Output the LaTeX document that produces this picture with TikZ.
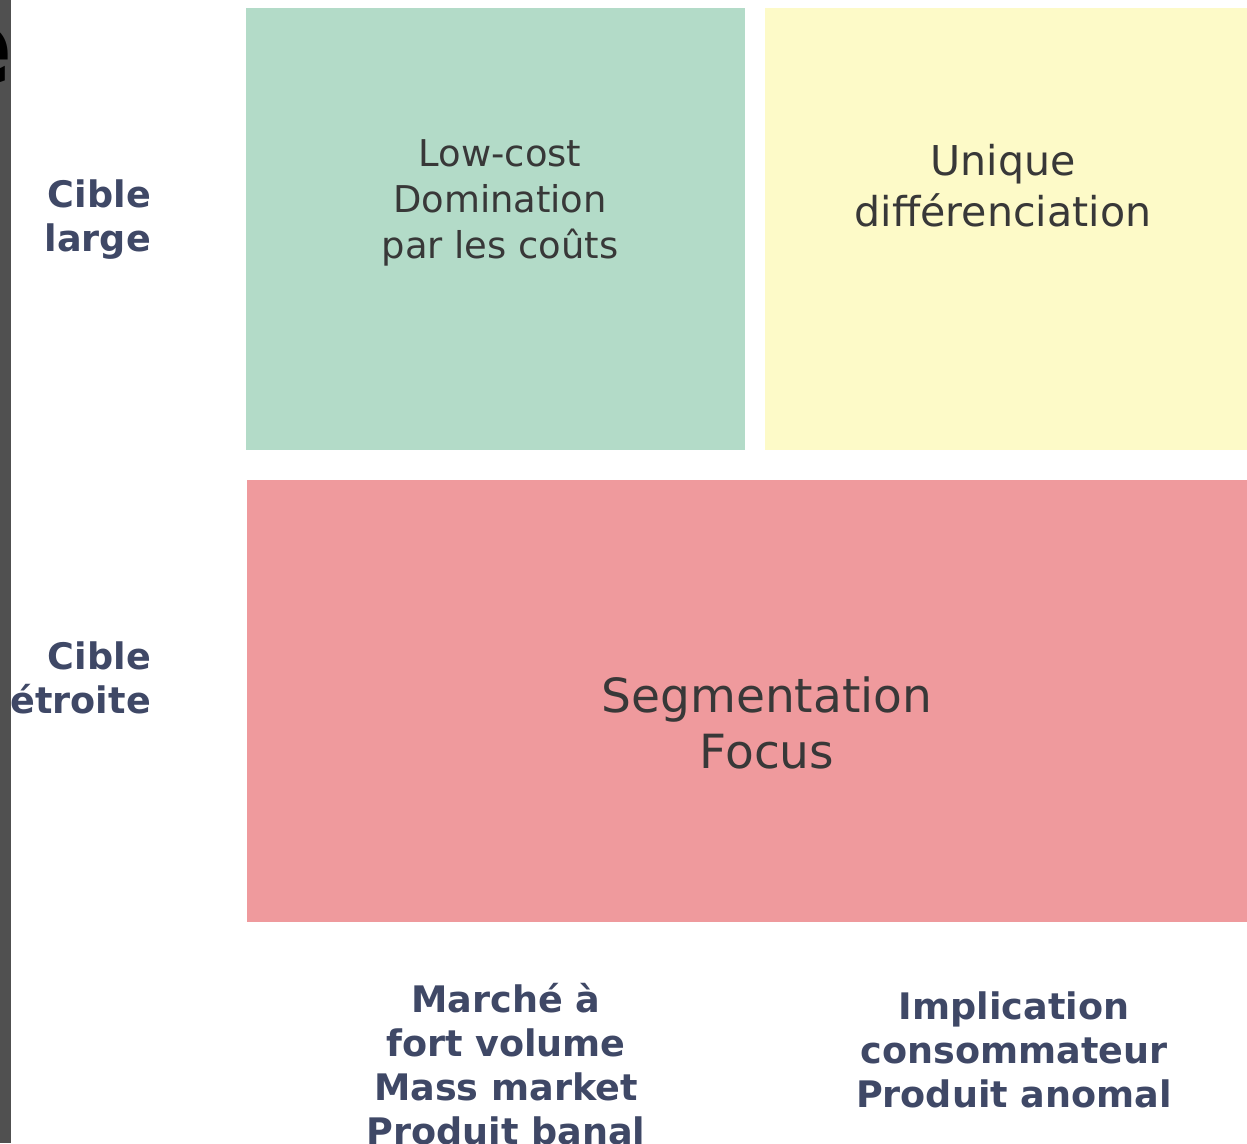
\documentclass[tikz,border=0pt]{standalone}
\usepackage{fontspec}
\setmainfont{DejaVu Sans}
\usepackage{xcolor}

\definecolor{stripegrey}{HTML}{505050}
\definecolor{costgreen}{HTML}{B3DBC8}
\definecolor{uniqueyellow}{HTML}{FDFAC8}
\definecolor{focuspink}{HTML}{EF9A9D}
\definecolor{boxtext}{HTML}{383838}
\definecolor{labeltext}{HTML}{3F4866}

\begin{document}
\begin{tikzpicture}[x=0.02cm, y=-0.02cm]
    \useasboundingbox (0,0) rectangle (1247,1143);
    \fill[white] (0,0) rectangle (1247,1143);

    % Left stripe
    \fill[stripegrey] (0,0) rectangle (11,1143);
    \begin{scope}
        \clip (0,0) rectangle (11,1143);
        \node[anchor=east, inner sep=0pt, font=\bfseries\fontsize{62pt}{66pt}\selectfont] (cutoff) at (14,42) {é};
    \end{scope}

    % Boxes
    \fill[costgreen] (246,8) rectangle (745,450);
    \node[text=boxtext, align=center, font=\fontsize{21pt}{26pt}\selectfont] (lowcost) at (500,203)
        {Low-cost\\Domination\\par les coûts};

    \fill[uniqueyellow] (765,8) rectangle (1247,450);
    \node[text=boxtext, align=center, font=\fontsize{23.4pt}{29pt}\selectfont] (unique) at (1003,186)
        {Unique\\différenciation};

    \fill[focuspink] (247,480) rectangle (1247,922);
    \node[text=boxtext, align=center, font=\fontsize{26.8pt}{32pt}\selectfont] (focus) at (767,723)
        {Segmentation\\Focus};

    % Row labels
    \node[text=labeltext, align=right, anchor=east, font=\bfseries\fontsize{20.8pt}{25pt}\selectfont] (large) at (157,220)
        {Cible\\large};
    \node[text=labeltext, align=right, anchor=east, font=\bfseries\fontsize{20.8pt}{25pt}\selectfont] (etroite) at (157,678)
        {Cible\\étroite};

    % Column labels
    \node[text=labeltext, align=center, font=\bfseries\fontsize{20.8pt}{25pt}\selectfont] (mass) at (506,1064)
        {Marché à\\fort volume\\Mass market\\Produit banal};
    \node[text=labeltext, align=center, font=\bfseries\fontsize{20.8pt}{25pt}\selectfont] (anomal) at (1014,1050)
        {Implication\\consommateur\\Produit anomal};
\end{tikzpicture}
\end{document}
